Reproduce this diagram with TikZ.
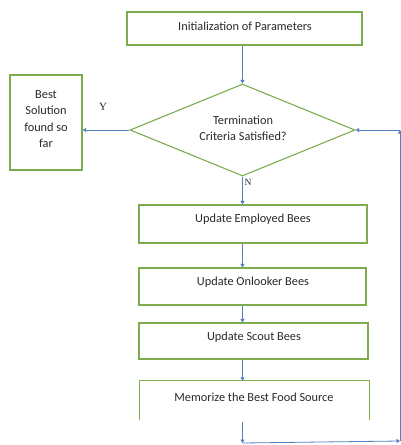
\documentclass[tikz,border=0pt]{standalone}
\usepackage{fontspec}
\setmainfont{Carlito}
\newfontfamily\serifyn{Liberation Serif}
\usetikzlibrary{shapes.geometric,arrows.meta,calc}
\definecolor{boxgreen}{RGB}{125,172,78}
\definecolor{arrblue}{RGB}{85,128,192}
\definecolor{txt}{RGB}{40,40,40}
\tikzset{
  box/.style={draw=boxgreen,line width=1.1pt,rectangle,inner sep=0pt},
  openbox/.style={draw=none,rectangle,inner sep=0pt},
  lbl/.style={text=txt,font=\fontsize{12.3}{16.2}\selectfont,align=center,inner sep=0pt},
  yn/.style={text=txt,font=\serifyn\fontsize{11}{13}\selectfont,inner sep=0pt},
  arr/.style={draw=arrblue,line width=0.8pt,-{Triangle[width=4pt,length=3.5pt]}},
}
\begin{document}
\begin{tikzpicture}[x=1pt,y=-1pt]
\useasboundingbox (0,0) rectangle (401,445);
% boxes
\node[box,minimum width=235pt,minimum height=33pt] (init) at (244.5,28.5) {};
\node[lbl] (tinit) at (245,26) {Initialization of Parameters};
\node[draw=boxgreen,line width=1.1pt,diamond,aspect=2.45,minimum width=225pt,minimum height=92pt,inner sep=0pt] (dia) at (242.5,130) {};
\node[lbl] (tdia) at (243,128) {Termination\\Criteria Satisfied?};
\node[box,minimum width=72pt,minimum height=95pt] (best) at (46,122.5) {};
\node[lbl] (tbest) at (46,119) {Best\\Solution\\found so\\far};
\node[box,minimum width=228pt,minimum height=38pt] (emp) at (253,224) {};
\node[lbl] (temp) at (253,219) {Update Employed Bees};
\node[box,minimum width=227pt,minimum height=37pt] (onl) at (252.5,286.5) {};
\node[lbl] (tonl) at (253,282) {Update Onlooker Bees};
\node[box,minimum width=229pt,minimum height=36pt] (sco) at (253.5,341) {};
\node[lbl] (tsco) at (254,337) {Update Scout Bees};
\node[openbox,minimum width=229pt,minimum height=39pt] (mem) at (254.5,400.5) {};
\draw[draw=boxgreen,line width=1.1pt] (mem.south west) -- (mem.north west) -- (mem.north east) -- (mem.south east);
\node[lbl] (tmem) at (254,397) {Memorize the Best Food Source};
% labels
\node[yn] (ylab) at (103,107) {Y};
\node[yn,font=\serifyn\fontsize{9.5}{11}\selectfont] (nlab) at (248,182) {N};
% coordinates
\coordinate (b1) at (242.5,443);
\coordinate (b2) at (400,441);
\coordinate (b3) at (400,130);
% arrows
\draw[arr] (dia.north |- init.south) -- (dia.north);
\draw[arr] (dia.west) -- (best.east |- dia.west);
\draw[arr] (dia.south) -- (dia.south |- emp.north);
\draw[arr] (dia.south |- emp.south) -- (dia.south |- onl.north);
\draw[arr] (dia.south |- onl.south) -- (dia.south |- sco.north);
\draw[arr] (dia.south |- sco.south) -- (dia.south |- mem.north);
\draw[arr] ($(dia.south |- mem.south)+(0,2)$) -- (b1);
\draw[arr] (b1) -- (b2);
\draw[arr] (b2) -- (b3);
\draw[arr] (b3) -- (dia.east);
\end{tikzpicture}
\end{document}
